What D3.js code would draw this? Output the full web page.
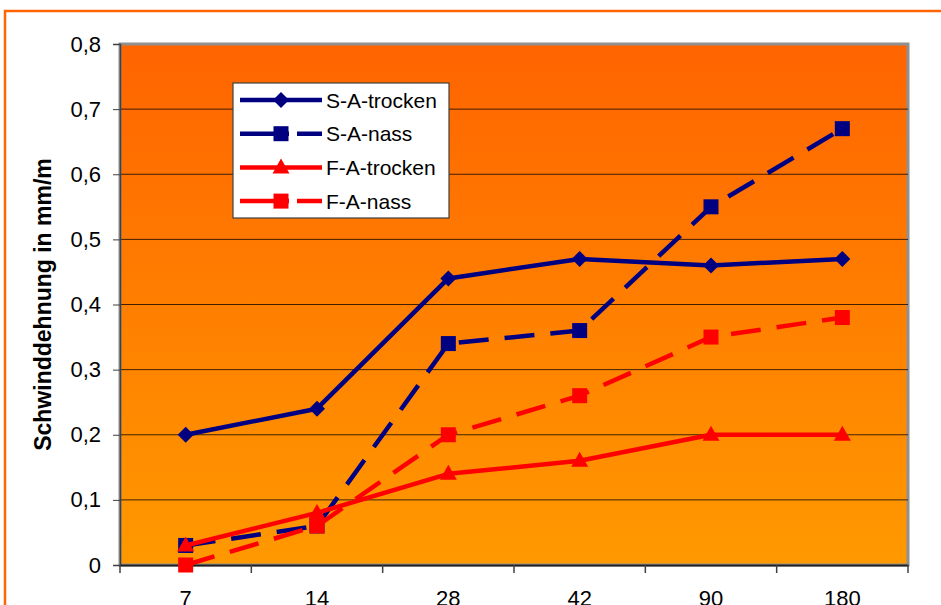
<!DOCTYPE html>
<html lang="de">
<head>
<meta charset="UTF-8">
<title>Schwinddehnung</title>
<script src="https://d3js.org/d3.v7.min.js"></script>
<style>
  body { margin: 0; padding: 0; background: #fff; font-family: Arial, "Liberation Sans", sans-serif; }
  svg { display: block; }
</style>
</head>
<body>
<div id="chart"></div>
<script>
// Data
const days = ["7", "14", "28", "42", "90", "180"];
const yTicks = [0, 0.1, 0.2, 0.3, 0.4, 0.5, 0.6, 0.7, 0.8];
const saTrocken = [0.20, 0.24, 0.44, 0.47, 0.46, 0.47];
const saNass = [0.03, 0.06, 0.34, 0.36, 0.55, 0.67];
const faTrocken = [0.03, 0.08, 0.14, 0.16, 0.20, 0.20];
const faNass = [0.00, 0.06, 0.20, 0.26, 0.35, 0.38];

const series = [
  { name: "S-A-trocken", values: saTrocken, color: "#000080", dash: null, marker: "diamond" },
  { name: "S-A-nass", values: saNass, color: "#000080", dash: "30,16", marker: "square" },
  { name: "F-A-trocken", values: faTrocken, color: "#ff0000", dash: null, marker: "triangle" },
  { name: "F-A-nass", values: faNass, color: "#ff0000", dash: "30,16", marker: "square" }
];

const W = 941, H = 605;
const plot = { left: 120, right: 908, top: 44, bottom: 565 };

const svg = d3.select("#chart").append("svg")
  .attr("width", W).attr("height", H);

// outer chart frame
svg.append("rect")
  .attr("x", 5).attr("y", 11)
  .attr("width", W + 10).attr("height", H + 10)
  .attr("fill", "none").attr("stroke", "#ff6600").attr("stroke-width", 2.5);

const defs = svg.append("defs");
const grad = defs.append("linearGradient")
  .attr("id", "bg").attr("x1", 0).attr("y1", 0).attr("x2", 0).attr("y2", 1);
grad.append("stop").attr("offset", "0%").attr("stop-color", "#ff6400");
grad.append("stop").attr("offset", "100%").attr("stop-color", "#ff9900");

const x = d3.scaleBand().domain(days).range([plot.left, plot.right]);
const y = d3.scaleLinear().domain([0, 0.8]).range([plot.bottom, plot.top]);

// plot background
svg.append("rect")
  .attr("x", plot.left).attr("y", plot.top)
  .attr("width", plot.right - plot.left).attr("height", plot.bottom - plot.top)
  .attr("fill", "url(#bg)")
  .attr("stroke", "#909090").attr("stroke-width", 3);

// grid lines
svg.append("g").selectAll("line")
  .data(yTicks.filter(d => d > 0 && d < 0.8))
  .enter().append("line")
  .attr("x1", plot.left).attr("x2", plot.right)
  .attr("y1", d => y(d)).attr("y2", d => y(d))
  .attr("stroke", "#000").attr("stroke-opacity", 0.75).attr("stroke-width", 1);

// y axis
const yAxis = svg.append("g")
  .attr("transform", `translate(${plot.left},0)`)
  .call(d3.axisLeft(y).tickValues(yTicks).tickSize(7).tickPadding(12)
    .tickFormat(d => d === 0 ? "0" : d3.format(".1f")(d).replace(".", ",")));
yAxis.select(".domain").attr("stroke", "#404040").attr("stroke-width", 1.5);
yAxis.selectAll(".tick line").attr("stroke", "#404040");
yAxis.selectAll("text").attr("font-size", 22).attr("fill", "#000")
  .attr("font-family", "Arial, 'Liberation Sans', sans-serif");

// x axis
const xAxis = svg.append("g")
  .attr("transform", `translate(0,${plot.bottom})`)
  .call(d3.axisBottom(x).tickSize(0).tickPadding(25));
xAxis.select(".domain").attr("stroke", "#202020").attr("stroke-width", 2);
xAxis.selectAll("text").attr("font-size", 22).attr("fill", "#000")
  .attr("font-family", "Arial, 'Liberation Sans', sans-serif");
// tick marks between categories
svg.append("g").selectAll("line")
  .data(days.concat(["end"]))
  .enter().append("line")
  .attr("x1", (d, i) => plot.left + i * x.step())
  .attr("x2", (d, i) => plot.left + i * x.step())
  .attr("y1", plot.bottom).attr("y2", plot.bottom + 8)
  .attr("stroke", "#404040").attr("stroke-width", 1.5);

// y axis title
svg.append("text")
  .attr("transform", `translate(51,${(plot.top + plot.bottom) / 2}) rotate(-90)`)
  .attr("text-anchor", "middle")
  .attr("font-size", 23).attr("font-weight", "bold")
  .text("Schwinddehnung in mm/m");

function drawMarker(g, type, cx, cy, color) {
  if (type === "diamond") {
    g.append("path")
      .attr("d", `M${cx},${cy - 8}L${cx + 8},${cy}L${cx},${cy + 8}L${cx - 8},${cy}Z`)
      .attr("fill", color);
  } else if (type === "square") {
    g.append("rect")
      .attr("x", cx - 7.5).attr("y", cy - 7.5).attr("width", 15).attr("height", 15)
      .attr("fill", color);
  } else {
    g.append("path")
      .attr("d", `M${cx},${cy - 9}L${cx + 8.5},${cy + 6}L${cx - 8.5},${cy + 6}Z`)
      .attr("fill", color);
  }
}

const line = d3.line()
  .x((d, i) => x(days[i]) + x.bandwidth() / 2)
  .y(d => y(d));

series.forEach(s => {
  const g = svg.append("g");
  g.append("path")
    .datum(s.values)
    .attr("d", line)
    .attr("fill", "none")
    .attr("stroke", s.color)
    .attr("stroke-width", 4.5)
    .attr("stroke-dasharray", s.dash)
    .attr("stroke-linejoin", "round");
  s.values.forEach((v, i) => {
    drawMarker(g, s.marker, x(days[i]) + x.bandwidth() / 2, y(v), s.color);
  });
});

// legend
const legend = svg.append("g");
legend.append("rect")
  .attr("x", 233).attr("y", 83).attr("width", 216).attr("height", 135)
  .attr("fill", "#fff").attr("stroke", "#404040").attr("stroke-width", 1.2);
series.forEach((s, i) => {
  const ly = 100 + i * 33.7;
  const lg = legend.append("g");
  lg.append("line")
    .attr("x1", 240).attr("x2", 322).attr("y1", ly).attr("y2", ly)
    .attr("stroke", s.color).attr("stroke-width", 4.5)
    .attr("stroke-dasharray", s.dash ? "49,8,26" : null);
  drawMarker(lg, s.marker, 281, ly, s.color);
  lg.append("text")
    .attr("x", 326).attr("y", ly + 7.5)
    .attr("font-size", 21)
    .text(s.name);
});
</script>
</body>
</html>
